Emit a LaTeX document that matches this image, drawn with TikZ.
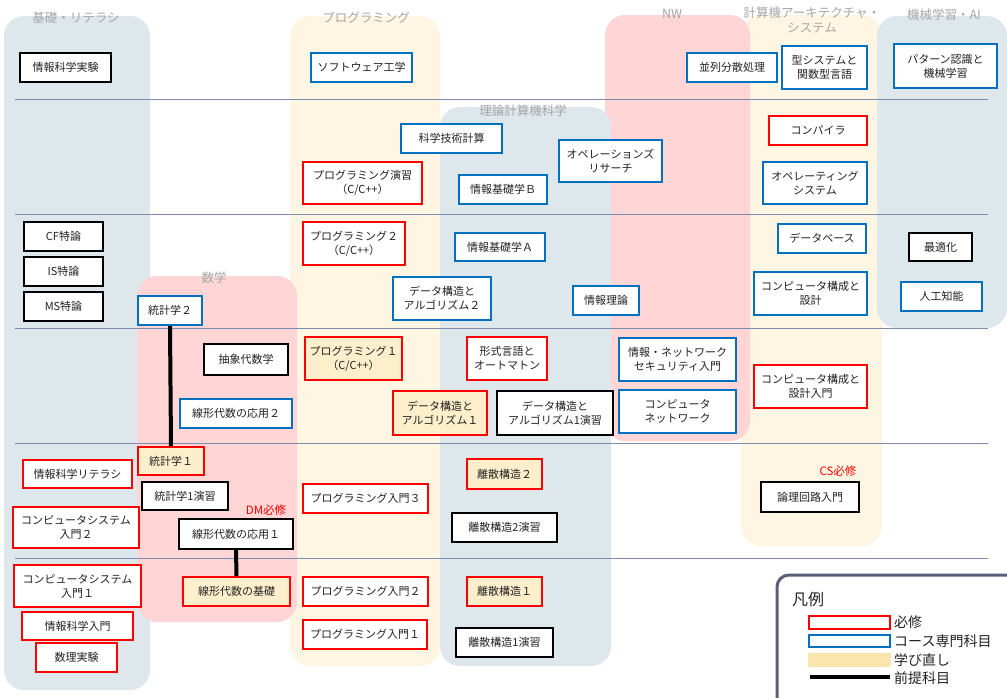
\documentclass[tikz,border=0pt]{standalone}
\usepackage{fontspec}
\setmainfont{Noto Sans CJK JP}
\definecolor{bgblue}{HTML}{DDE7EC}
\definecolor{bgyel}{HTML}{FEF6E3}
\definecolor{bgpink}{HTML}{FFD5D6}
\definecolor{sepline}{HTML}{7F8CB0}
\definecolor{reqred}{HTML}{FF0000}
\definecolor{csblue}{HTML}{0070C0}
\definecolor{relearn}{HTML}{FDEFCB}
\definecolor{legrelearn}{HTML}{FBE5AE}
\definecolor{lblgray}{HTML}{A6A6A6}
\definecolor{legframe}{HTML}{5A6078}
\definecolor{txt}{HTML}{222222}
\newcommand\nbox[7]{%
  \pgfmathsetmacro\nbcx{(#3+#5)/2}\pgfmathsetmacro\nbcy{(#4+#6)/2}%
  \pgfmathsetmacro\nbww{#5-#3-1.8}\pgfmathsetmacro\nbhh{#6-#4-1.8}%
  \node[#1, minimum width=\nbww pt, minimum height=\nbhh pt] (#2) at (\nbcx,\nbcy) {#7};}
\tikzset{
  box/.style={draw, line width=1.8pt, fill=white, inner sep=0pt, align=center, text=txt,
    font=\fontsize{11}{14}\selectfont},
  rq/.style={box, draw=reqred},
  cs/.style={box, draw=csblue},
  bk/.style={box, draw=black},
  re/.style={fill=relearn},
  bgbox/.style={rounded corners=20pt},
  collabel/.style={text=lblgray, font=\fontsize{12.5}{15}\selectfont, inner sep=0pt, align=center},
  sep/.style={draw=sepline, line width=0.9pt},
  prereq/.style={line width=4pt, draw=black},
  redtxt/.style={text=reqred, font=\fontsize{11.5}{14}\selectfont, inner sep=0pt},
  legtxt/.style={font=\fontsize{14}{16}\selectfont, inner sep=0pt, anchor=west, text=txt},
}
\begin{document}
\begin{tikzpicture}[x=1pt,y=-1pt]
\useasboundingbox (0,0) rectangle (1007,697);
\clip (0,0) rectangle (1007,697);
\fill[white] (0,0) rectangle (1007,697);
% background columns
\fill[bgblue, bgbox] (4,16) rectangle (150,690);
\fill[bgyel, bgbox] (290,16) rectangle (440,666);
\fill[bgyel, bgbox] (741,15) rectangle (882,546);
\fill[bgpink, bgbox] (605,15) rectangle (750,441);
\fill[bgblue, bgbox] (440,107) rectangle (611,666);
\fill[bgblue, bgbox] (877,16) rectangle (1007,328);
\fill[bgpink, bgbox] (137,276) rectangle (297,622);
% column labels
\node[collabel] (lkiso) at (76,18) {基礎・リテラシ};
\node[collabel] (lprog) at (366,18) {プログラミング};
\node[collabel] (ltheory) at (523,111) {理論計算機科学};
\node[collabel] (lnw) at (672,14) {NW};
\node[collabel] (larch) at (812,20) {計算機アーキテクチャ・\\システム};
\node[collabel] (lml) at (944,15) {機械学習・AI};
\node[collabel] (lmath) at (214,278) {数学};
% separators
\foreach \yy in {99,214,328,443,558} \draw[sep] (15,\yy) -- (988,\yy);
% nodes
\nbox{bk}{jikken}{19}{52}{112}{83}{情報科学実験}
\nbox{cs}{soft}{310}{52}{413}{83}{ソフトウェア工学}
\nbox{cs}{kagaku}{400}{123}{503}{154}{科学技術計算}
\nbox{cs}{orr}{558}{139}{663}{183}{オペレーションズ\\リサーチ}
\nbox{cs}{kisoB}{458}{174}{548}{205}{情報基礎学Ｂ}
\nbox{rq}{proen}{302}{161}{423}{205}{プログラミング演習\\（C/C++）}
\nbox{cs}{heiretsu}{686}{52}{778}{83}{並列分散処理}
\nbox{cs}{kata}{781}{45}{868}{90}{型システムと\\関数型言語}
\nbox{cs}{pattern}{893}{43}{998}{89}{パターン認識と\\機械学習}
\nbox{rq}{compiler}{768}{115}{868}{146}{コンパイラ}
\nbox{cs}{os}{762}{161}{868}{205}{オペレーティング\\システム}
\nbox{cs}{db}{777}{223}{867}{254}{データベース}
\nbox{bk}{opt}{908}{232}{973}{262}{最適化}
\nbox{bk}{cf}{23}{221}{104}{252}{CF特論}
\nbox{bk}{is}{23}{256}{104}{287}{IS特論}
\nbox{bk}{ms}{23}{291}{104}{322}{MS特論}
\nbox{cs}{stat2}{137}{295}{203}{326}{統計学２}
\nbox{bk}{abst}{203}{343}{289}{376}{抽象代数学}
\nbox{cs}{linapp2}{179}{398}{293}{429}{線形代数の応用２}
\nbox{rq,re}{stat1}{137}{446}{205}{476}{統計学１}
\nbox{rq}{prog2}{302}{221}{406}{266}{プログラミング２\\（C/C++）}
\nbox{cs}{kisoA}{454}{232}{546}{262}{情報基礎学Ａ}
\nbox{cs}{ds2}{392}{276}{492}{321}{データ構造と\\アルゴリズム２}
\nbox{cs}{infoth}{572}{285}{640}{316}{情報理論}
\nbox{rq,re}{prog1}{304}{336}{403}{381}{プログラミング１\\（C/C++）}
\nbox{rq}{formal}{466}{336}{548}{381}{形式言語と\\オートマトン}
\nbox{cs}{sec}{618}{337}{737}{382}{情報・ネットワーク\\セキュリティ入門}
\nbox{rq,re}{ds1}{392}{390}{488}{436}{データ構造と\\アルゴリズム１}
\nbox{bk}{ds1ex}{496}{390}{614}{436}{データ構造と\\アルゴリズム1演習}
\nbox{cs}{net}{618}{389}{737}{434}{コンピュータ\\ネットワーク}
\nbox{cs}{cod}{753}{271}{868}{316}{コンピュータ構成と\\設計}
\nbox{cs}{ai}{900}{281}{983}{312}{人工知能}
\nbox{rq}{codintro}{753}{364}{868}{409}{コンピュータ構成と\\設計入門}
\nbox{rq}{literacy}{22}{459}{133}{489}{情報科学リテラシ}
\nbox{bk}{stat1ex}{141}{481}{229}{511}{統計学1演習}
\nbox{bk}{linapp1}{178}{518}{294}{550}{線形代数の応用１}
\nbox{rq}{cs2}{12}{506}{140}{549}{コンピュータシステム\\入門２}
\nbox{rq}{cs1}{13}{564}{142}{608}{コンピュータシステム\\入門１}
\nbox{rq,re}{linbase}{182}{576}{291}{607}{線形代数の基礎}
\nbox{rq}{intro}{21}{611}{134}{641}{情報科学入門}
\nbox{rq}{suri}{35}{642}{118}{673}{数理実験}
\nbox{rq}{pi3}{302}{483}{429}{514}{プログラミング入門３}
\nbox{rq,re}{dis2}{466}{458}{543}{490}{離散構造２}
\nbox{bk}{dis2ex}{451}{512}{558}{543}{離散構造2演習}
\nbox{rq}{pi2}{302}{576}{429}{607}{プログラミング入門２}
\nbox{rq,re}{dis1}{466}{576}{543}{607}{離散構造１}
\nbox{rq}{pi1}{302}{619}{428}{650}{プログラミング入門１}
\nbox{bk}{dis1ex}{455}{627}{554}{658}{離散構造1演習}
\nbox{bk}{logic}{760}{481}{860}{513}{論理回路入門}
% prerequisite connectors
\draw[prereq] (stat2.south) -- (stat1.north);
\draw[prereq] (linapp1.south) -- (linbase.north);
% red notes
\node[redtxt] (dmreq) at (266,510) {DM必修};
\node[redtxt] (csreq) at (838,471) {CS必修};
% legend
\draw[legframe, line width=3pt, fill=white, rounded corners=12pt] (777,575) rectangle (1030,730);
\node[font=\fontsize{16}{18}\selectfont, inner sep=0pt, text=txt] (legtitle) at (808,599) {凡例};
\node[draw=reqred, line width=1.8pt, fill=white, minimum width=81pt, minimum height=13pt, inner sep=0pt] (legred) at (849.5,622.5) {};
\node[draw=csblue, line width=1.8pt, fill=white, minimum width=81pt, minimum height=12pt, inner sep=0pt] (legblue) at (849.5,641) {};
\node[fill=legrelearn, minimum width=83pt, minimum height=14pt, inner sep=0pt] (legre) at (849.5,660) {};
\coordinate (legl1) at (810,677);
\coordinate (legl2) at (890,677);
\draw[prereq] (legl1) -- (legl2);
\node[legtxt] (t1) at (894,622) {必修};
\node[legtxt] (t2) at (894,641) {コース専門科目};
\node[legtxt] (t3) at (894,660) {学び直し};
\node[legtxt] (t4) at (894,678) {前提科目};
\end{tikzpicture}
\end{document}
